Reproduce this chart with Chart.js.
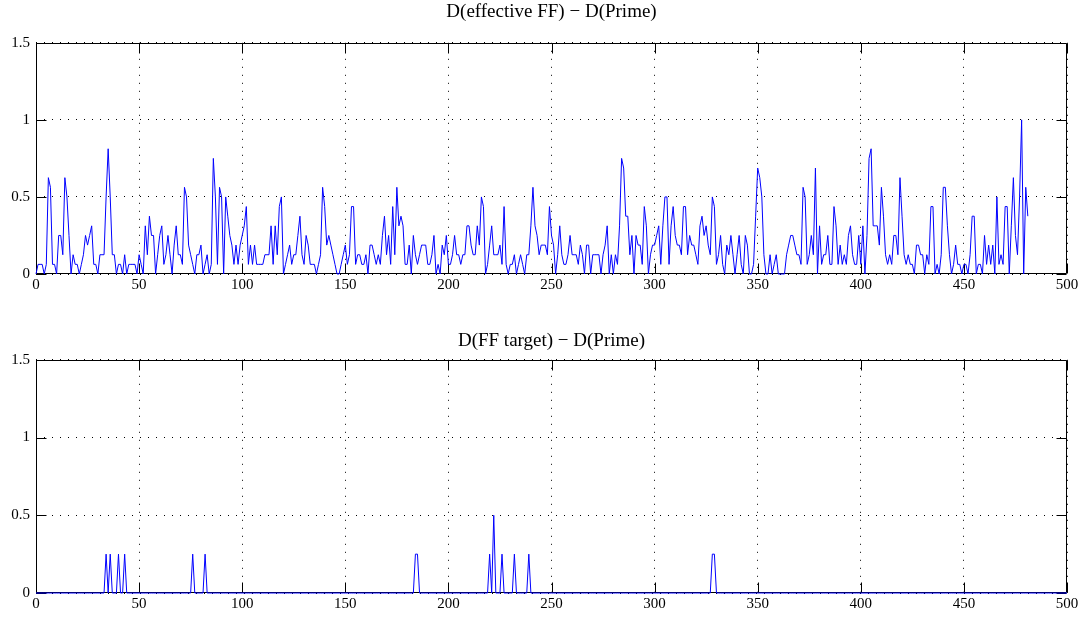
<!DOCTYPE html>
<html>
<head>
<meta charset="utf-8">
<script src="https://cdn.jsdelivr.net/npm/chart.js@4.4.1/dist/chart.umd.min.js"></script>
<style>
  body { margin: 0; background: #fff; }
  #wrap { position: relative; width: 1083px; height: 617px; background: #fff; }
  canvas { position: absolute; left: 0; }
  #top-chart { top: 0; }
  #bottom-chart { top: 320px; }
</style>
</head>
<body>
<div id="wrap">
  <canvas id="top-chart" width="1083" height="300"></canvas>
  <canvas id="bottom-chart" width="1083" height="297"></canvas>
</div>
<script>
// Data (sample index = x)
const topTitle = 'D(effective FF) \u2212 D(Prime)';
const bottomTitle = 'D(FF target) \u2212 D(Prime)';

const xTicks = [0, 50, 100, 150, 200, 250, 300, 350, 400, 450, 500];
const yTicks = [0, 0.5, 1, 1.5];

const effectiveDiff = [
  0, 0.0625, 0.0625, 0.0625, 0, 0.0625, 0.625, 0.5625, 0.0625, 0.0625,
  0, 0.25, 0.25, 0.125, 0.625, 0.5, 0.25, 0, 0.125, 0.0625,
  0.0625, 0, 0.0625, 0.125, 0.25, 0.1875, 0.25, 0.3125, 0.0625, 0.0625,
  0, 0.125, 0.125, 0.125, 0.5, 0.8125, 0.5, 0.125, 0.125, 0,
  0.0625, 0.0625, 0, 0.125, 0, 0.0625, 0.0625, 0.0625, 0.0625, 0,
  0.125, 0.0625, 0, 0.3125, 0.125, 0.375, 0.25, 0.25, 0, 0.125,
  0.25, 0.3125, 0.0625, 0.125, 0.25, 0.125, 0, 0.1875, 0.3125, 0.125,
  0.125, 0.0625, 0.5625, 0.5, 0.1875, 0.125, 0.0625, 0, 0.125, 0.125,
  0.1875, 0, 0.0625, 0.125, 0, 0.0625, 0.75, 0.5, 0.0625, 0.5625,
  0.5, 0, 0.5, 0.375, 0.25, 0.1875, 0.0625, 0.1875, 0.0625, 0.1875,
  0.25, 0.3125, 0.4375, 0.0625, 0.1875, 0.0625, 0.1875, 0.0625, 0.0625, 0.0625,
  0.0625, 0.125, 0.125, 0.125, 0.3125, 0.0625, 0.3125, 0.125, 0.4375, 0.5,
  0, 0.0625, 0.125, 0.1875, 0.0625, 0.125, 0.125, 0.25, 0.375, 0.125,
  0.0625, 0.25, 0.1875, 0.0625, 0.0625, 0.0625, 0, 0.0625, 0.125, 0.5625,
  0.4375, 0.1875, 0.25, 0.1875, 0.125, 0.0625, 0, 0, 0.0625, 0.125,
  0.1875, 0.0625, 0.125, 0.4375, 0.4375, 0.0625, 0.125, 0.125, 0.0625, 0.0625,
  0.125, 0, 0.1875, 0.1875, 0.125, 0.0625, 0.125, 0.0625, 0.25, 0.375,
  0.125, 0.25, 0.0625, 0.4375, 0.125, 0.5625, 0.3125, 0.375, 0.3125, 0.0625,
  0.0625, 0.1875, 0, 0.25, 0.125, 0.0625, 0.125, 0.1875, 0.1875, 0.1875,
  0.0625, 0.0625, 0.125, 0.25, 0, 0.0625, 0, 0.1875, 0.125, 0.25,
  0.0625, 0.0625, 0.125, 0.25, 0.125, 0.125, 0.0625, 0.125, 0.125, 0.3125,
  0.3125, 0.1875, 0.125, 0.125, 0.3125, 0.1875, 0.5, 0.4375, 0, 0.0625,
  0.1875, 0.3125, 0.125, 0.125, 0.125, 0.1875, 0.0625, 0.4375, 0.0625, 0,
  0.0625, 0.0625, 0.125, 0, 0.0625, 0.125, 0.0625, 0, 0.125, 0.125,
  0.3125, 0.5625, 0.3125, 0.25, 0.125, 0.1875, 0.1875, 0.1875, 0.125, 0.4375,
  0.25, 0.1875, 0, 0.125, 0.3125, 0.125, 0.0625, 0.0625, 0.125, 0.25,
  0.125, 0.125, 0.125, 0.0625, 0.1875, 0.125, 0, 0.1875, 0.1875, 0,
  0.125, 0.125, 0.125, 0.125, 0, 0.125, 0.1875, 0.3125, 0, 0.125,
  0, 0.125, 0.0625, 0.3125, 0.75, 0.6875, 0.375, 0.375, 0.125, 0.25,
  0, 0.25, 0.1875, 0.1875, 0.0625, 0.4375, 0.3125, 0, 0.125, 0.1875,
  0.1875, 0.25, 0.3125, 0.0625, 0.3125, 0.5, 0.5, 0.0625, 0.3125, 0.4375,
  0.25, 0.1875, 0.1875, 0.125, 0.4375, 0.4375, 0.125, 0.25, 0.1875, 0.1875,
  0.125, 0.0625, 0.3125, 0.375, 0.25, 0.3125, 0.1875, 0.125, 0.5, 0.4375,
  0.0625, 0.125, 0.25, 0.0625, 0, 0.1875, 0.125, 0.25, 0.125, 0,
  0.125, 0.25, 0.0625, 0, 0.25, 0.1875, 0, 0, 0.0625, 0.375,
  0.6875, 0.625, 0.5, 0.125, 0, 0, 0.125, 0, 0.0625, 0.125,
  0, 0, 0, 0, 0.125, 0.1875, 0.25, 0.25, 0.1875, 0.125,
  0.125, 0.0625, 0.5625, 0.5, 0.0625, 0.125, 0.25, 0.125, 0.6875, 0,
  0.3125, 0.0625, 0.125, 0.125, 0.25, 0.0625, 0.0625, 0.4375, 0.3125, 0.0625,
  0.1875, 0.0625, 0.125, 0.0625, 0.25, 0.3125, 0.125, 0.0625, 0.0625, 0.25,
  0.0625, 0.3125, 0, 0.25, 0.75, 0.8125, 0.3125, 0.3125, 0.3125, 0.1875,
  0.5625, 0.375, 0.125, 0.0625, 0.125, 0.0625, 0.25, 0.25, 0.125, 0.625,
  0.375, 0.125, 0.0625, 0.125, 0.0625, 0.0625, 0, 0.1875, 0.1875, 0.125,
  0.125, 0, 0.125, 0.0625, 0.4375, 0.4375, 0, 0.0625, 0, 0.125,
  0.5625, 0.5625, 0.3125, 0.125, 0, 0.0625, 0.1875, 0.0625, 0.0625, 0,
  0.0625, 0.0625, 0, 0.125, 0.375, 0.375, 0, 0.0625, 0.0625, 0,
  0.25, 0.0625, 0.1875, 0.0625, 0.1875, 0, 0.5, 0.0625, 0.125, 0.0625,
  0.4375, 0.4375, 0, 0.3125, 0.625, 0.25, 0.125, 0.5, 1, 0,
  0.5625, 0.375
];

// bottom series is zero everywhere except these samples
const targetLength = 501;
const targetSpikeIdx = [34, 36, 40, 43, 76, 82, 184, 185, 220, 222, 226, 232, 239, 328, 329];
const targetSpikeVal = [0.25, 0.25, 0.25, 0.25, 0.25, 0.25, 0.25, 0.25, 0.25, 0.5, 0.25, 0.25, 0.25, 0.25, 0.25];

// Build point lists
const effectivePoints = effectiveDiff.map((v, i) => ({ x: i, y: v }));
const targetValues = new Array(targetLength).fill(0);
targetSpikeIdx.forEach((idx, k) => { targetValues[idx] = targetSpikeVal[k]; });
const targetPoints = targetValues.map((v, i) => ({ x: i, y: v }));

const FONT = '"Liberation Serif", "DejaVu Serif", serif';

// Box + inward ticks, MATLAB style
const matlabFrame = {
  id: 'matlabFrame',
  beforeDatasetsDraw(chart) {
    const { ctx, chartArea: a, scales } = chart;
    const len = 10;
    const L = Math.round(a.left) + 0.5, R = Math.round(a.right) - 0.5;
    const T = Math.round(a.top) + 0.5, B = Math.round(a.bottom) - 0.5;
    ctx.save();
    ctx.strokeStyle = '#000';
    ctx.lineWidth = 1;
    ctx.beginPath();
    ctx.rect(L, T, R - L, B - T);
    scales.x.ticks.forEach(t => {
      const px = Math.round(scales.x.getPixelForValue(t.value)) + 0.5;
      ctx.moveTo(px, B); ctx.lineTo(px, B - len);
      ctx.moveTo(px, T); ctx.lineTo(px, T + len);
    });
    scales.y.ticks.forEach(t => {
      const py = Math.round(scales.y.getPixelForValue(t.value)) + 0.5;
      ctx.moveTo(L, py); ctx.lineTo(L + len, py);
      ctx.moveTo(R, py); ctx.lineTo(R - len, py);
    });
    ctx.stroke();
    ctx.restore();
  }
};

function makeChart(canvasId, title, points, titlePad, xAxisHeight) {
  const ctx = document.getElementById(canvasId).getContext('2d');
  return new Chart(ctx, {
    type: 'line',
    data: {
      datasets: [{
        data: points,
        borderColor: '#0000ff',
        borderWidth: 1,
        pointRadius: 0,
        tension: 0,
        fill: false,
        clip: 5
      }]
    },
    options: {
      responsive: false,
      animation: false,
      devicePixelRatio: 1,
      layout: { padding: { left: 0, right: 16, top: 0, bottom: 0 } },
      plugins: {
        legend: { display: false },
        tooltip: { enabled: false },
        title: {
          display: true,
          fullSize: false,
          text: title,
          color: '#000',
          font: { family: FONT, size: 19, weight: 'normal', lineHeight: 1.2 },
          padding: titlePad
        }
      },
      scales: {
        x: {
          type: 'linear',
          min: xTicks[0],
          max: xTicks[xTicks.length - 1],
          afterBuildTicks: s => { s.ticks = xTicks.map(v => ({ value: v })); },
          ticks: {
            color: '#000',
            font: { family: FONT, size: 15 },
            padding: 2,
            maxRotation: 0,
            autoSkip: false,
            callback: v => String(v)
          },
          grid: { color: '#000', lineWidth: 1, drawTicks: false },
          border: { display: false, dash: [1, 7] },
          afterFit: s => { s.height = xAxisHeight; s.paddingLeft = 0; s.paddingRight = 0; }
        },
        y: {
          type: 'linear',
          min: yTicks[0],
          max: yTicks[yTicks.length - 1],
          afterBuildTicks: s => { s.ticks = yTicks.map(v => ({ value: v })); },
          ticks: {
            color: '#000',
            font: { family: FONT, size: 15 },
            padding: 6,
            callback: v => String(v)
          },
          grid: { color: '#000', lineWidth: 1, drawTicks: false },
          border: { display: false, dash: [1, 7] },
          afterFit: s => { s.width = 36; s.paddingTop = 0; s.paddingBottom = 0; }
        }
      }
    },
    plugins: [matlabFrame]
  });
}

makeChart('top-chart', topTitle, effectivePoints, { top: 1, bottom: 19 }, 26);
makeChart('bottom-chart', bottomTitle, targetPoints, { top: 10, bottom: 7 }, 24);
</script>
</body>
</html>
